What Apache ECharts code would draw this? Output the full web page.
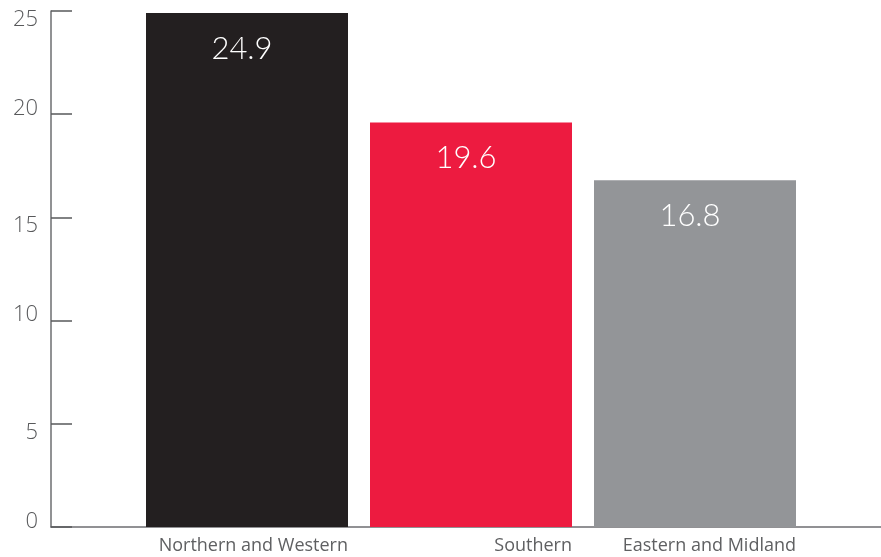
<!DOCTYPE html>
<html>
<head>
<meta charset="utf-8">
<script src="https://cdn.jsdelivr.net/npm/echarts@6/dist/echarts.min.js"></script>
<style>
  html, body { margin: 0; padding: 0; background: #ffffff; }
  #chart { width: 881px; height: 557px; }
</style>
</head>
<body>
<div id="chart"></div>
<script>
// Regional values
const regions = ['Northern and Western', 'Southern', 'Eastern and Midland'];
const values = [24.9, 19.6, 16.8];
const barColors = ['#231f20', '#ed1b40', '#939598'];
const yTicks = [0, 5, 10, 15, 20, 25];

const axisGrey = '#6d6e71';
const textGrey = '#58595b';

// Y tick labels alternate slightly below / above their tick
const lowered = new Set([25, 15, 5]);

const chart = echarts.init(document.getElementById('chart'), null, { renderer: 'canvas' });

const yLabelFont = { fontFamily: 'Open Sans', fontSize: 22, fontWeight: 300, color: textGrey };

chart.setOption({
  animation: false,
  backgroundColor: '#ffffff',
  grid: [
    { left: 51, right: 0, top: 11, bottom: 30 },
    { left: 135, width: 672, top: 11, bottom: 30 }
  ],
  xAxis: [
    {
      gridIndex: 0,
      type: 'category',
      data: [''],
      axisLine: { show: true, lineStyle: { color: axisGrey, width: 1.5 } },
      axisTick: { show: false },
      axisLabel: { show: false }
    },
    {
      gridIndex: 1,
      type: 'category',
      data: regions,
      axisLine: { show: false },
      axisTick: { show: false },
      axisLabel: {
        show: true,
        interval: 0,
        align: 'right',
        padding: [0, -101, 0, 0],
        margin: 10,
        fontFamily: 'Open Sans',
        fontSize: 18,
        fontWeight: 400,
        color: '#5f6062'
      }
    }
  ],
  yAxis: [
    {
      gridIndex: 0,
      type: 'value',
      min: yTicks[0],
      max: yTicks[yTicks.length - 1],
      interval: 5,
      axisLine: { show: true, lineStyle: { color: axisGrey, width: 1.5 } },
      axisTick: { show: true, inside: true, length: 21, lineStyle: { color: textGrey, width: 1.5 } },
      splitLine: { show: false },
      axisLabel: Object.assign({
        margin: 13,
        formatter: v => (lowered.has(v) ? '{dn|' + v + '}' : '{up|' + v + '}'),
        rich: {
          dn: Object.assign({ padding: [17, 0, 0, 0] }, yLabelFont),
          up: Object.assign({ padding: [0, 0, 11, 0] }, yLabelFont)
        }
      }, yLabelFont)
    },
    {
      gridIndex: 1,
      type: 'value',
      min: yTicks[0],
      max: yTicks[yTicks.length - 1],
      show: false
    }
  ],
  series: [
    {
      type: 'bar',
      xAxisIndex: 1,
      yAxisIndex: 1,
      barWidth: 202,
      data: values.map((v, i) => ({ value: v, itemStyle: { color: barColors[i] } })),
      label: {
        show: true,
        position: 'insideTop',
        distance: 20,
        offset: [-5, 0],
        color: '#ffffff',
        fontFamily: 'Lato',
        fontWeight: 300,
        fontSize: 31,
        formatter: p => p.value.toFixed(1)
      }
    }
  ]
});
</script>
</body>
</html>
